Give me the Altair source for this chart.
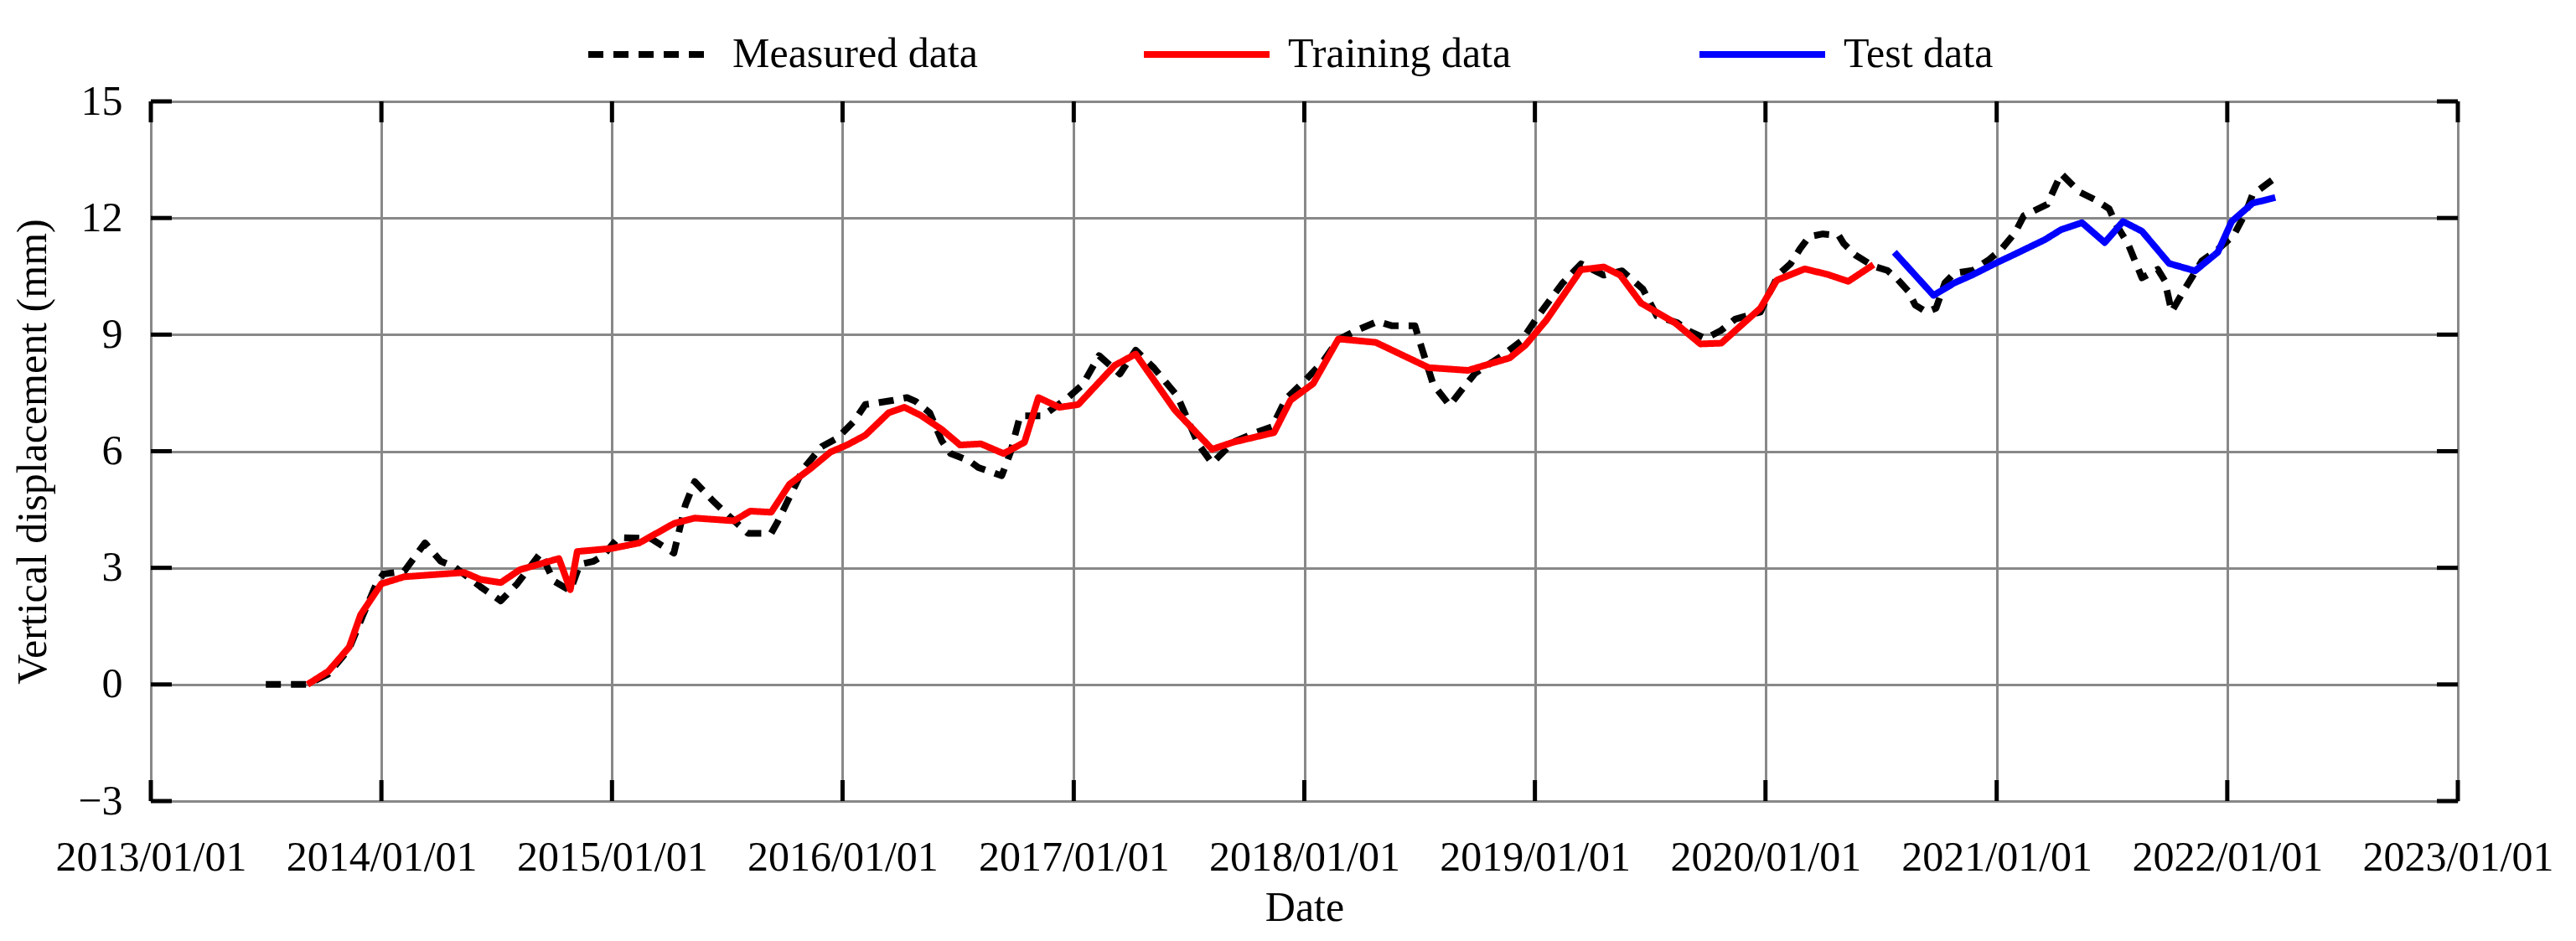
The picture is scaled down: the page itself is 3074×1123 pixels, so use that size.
import altair as alt
import pandas as pd

# ---------------- data (decimal years, displacement in mm) ----------------
meas_t = [2013.50, 2013.68, 2013.77, 2013.86, 2013.92, 2013.98, 2014.01, 2014.10, 2014.19, 2014.26,
          2014.32, 2014.43, 2014.52, 2014.59, 2014.69, 2014.75, 2014.82, 2014.86, 2014.92, 2014.96,
          2015.03, 2015.17, 2015.27, 2015.32, 2015.36, 2015.44, 2015.51, 2015.59, 2015.69, 2015.72,
          2015.77, 2015.83, 2015.91, 2015.98, 2016.05, 2016.10, 2016.15, 2016.22, 2016.28, 2016.32,
          2016.38, 2016.43, 2016.47, 2016.55, 2016.59, 2016.69, 2016.73, 2016.77, 2016.87, 2016.98,
          2017.04, 2017.11, 2017.20, 2017.27, 2017.35, 2017.45, 2017.54, 2017.60, 2017.69, 2017.79,
          2017.86, 2017.92, 2018.01, 2018.08, 2018.15, 2018.22, 2018.32, 2018.38, 2018.48, 2018.51,
          2018.56, 2018.63, 2018.69, 2018.74, 2018.86, 2018.94, 2019.02, 2019.12, 2019.20, 2019.30,
          2019.38, 2019.47, 2019.53, 2019.62, 2019.67, 2019.74, 2019.81, 2019.87, 2019.98, 2020.01,
          2020.06, 2020.11, 2020.15, 2020.19, 2020.25, 2020.32, 2020.34, 2020.39, 2020.47, 2020.53,
          2020.57, 2020.62, 2020.65, 2020.70, 2020.74, 2020.78, 2020.82, 2020.90, 2020.97, 2021.02,
          2021.08, 2021.12, 2021.22, 2021.28, 2021.36, 2021.43, 2021.49, 2021.52, 2021.57, 2021.63,
          2021.70, 2021.73, 2021.76, 2021.81, 2021.89, 2021.96, 2022.03, 2022.08, 2022.11, 2022.20]
meas_v = [0.00, 0.00, 0.27, 0.92, 1.79, 2.59, 2.84, 2.91, 3.64, 3.17,
          3.02, 2.51, 2.15, 2.59, 3.38, 2.66, 2.41, 3.09, 3.17, 3.30,
          3.78, 3.75, 3.38, 4.61, 5.22, 4.72, 4.32, 3.89, 3.89, 4.18,
          4.82, 5.55, 6.12, 6.34, 6.77, 7.20, 7.24, 7.31, 7.38, 7.28,
          6.99, 6.27, 5.94, 5.76, 5.58, 5.37, 5.98, 6.91, 6.91, 7.38,
          7.71, 8.46, 7.99, 8.60, 8.14, 7.42, 6.19, 5.69, 6.23, 6.48,
          6.63, 7.35, 7.85, 8.30, 8.87, 9.09, 9.34, 9.23, 9.23, 8.65,
          7.72, 7.18, 7.64, 8.00, 8.47, 8.83, 9.52, 10.31, 10.82, 10.53,
          10.64, 10.17, 9.48, 9.30, 9.09, 8.90, 9.11, 9.40, 9.58, 9.97,
          10.55, 10.83, 11.19, 11.52, 11.59, 11.55, 11.34, 11.05, 10.76, 10.65,
          10.44, 10.12, 9.76, 9.58, 9.68, 10.33, 10.58, 10.65, 10.93, 11.19,
          11.62, 12.06, 12.35, 13.14, 12.67, 12.46, 12.24, 11.84, 11.33, 10.46,
          10.68, 10.39, 9.59, 10.10, 10.90, 11.19, 11.55, 12.13, 12.60, 13.00]

train_t = [2013.68, 2013.77, 2013.86, 2013.91, 2014.00, 2014.10, 2014.36, 2014.43, 2014.52, 2014.60,
           2014.77, 2014.82, 2014.85, 2015.00, 2015.12, 2015.27, 2015.36, 2015.53, 2015.60, 2015.69,
           2015.77, 2015.86, 2015.95, 2016.02, 2016.10, 2016.20, 2016.27, 2016.34, 2016.43, 2016.51,
           2016.60, 2016.70, 2016.79, 2016.85, 2016.94, 2017.02, 2017.18, 2017.27, 2017.44, 2017.60,
           2017.69, 2017.87, 2017.94, 2018.04, 2018.15, 2018.31, 2018.54, 2018.71, 2018.89, 2018.96,
           2019.05, 2019.20, 2019.30, 2019.37, 2019.46, 2019.61, 2019.72, 2019.81, 2019.98, 2020.05,
           2020.17, 2020.27, 2020.36, 2020.47]
train_v = [0.00, 0.34, 0.96, 1.79, 2.59, 2.77, 2.88, 2.70, 2.62, 2.95,
           3.24, 2.44, 3.42, 3.50, 3.64, 4.14, 4.28, 4.21, 4.46, 4.43,
           5.15, 5.55, 5.98, 6.16, 6.41, 6.99, 7.13, 6.92, 6.56, 6.16,
           6.19, 5.94, 6.23, 7.38, 7.13, 7.20, 8.21, 8.50, 7.06, 6.05,
           6.23, 6.48, 7.31, 7.74, 8.89, 8.80, 8.15, 8.08, 8.40, 8.73,
           9.37, 10.67, 10.74, 10.53, 9.81, 9.30, 8.76, 8.78, 9.68, 10.40,
           10.69, 10.55, 10.37, 10.80]

test_t = [2020.56, 2020.73, 2020.82, 2020.90, 2021.00, 2021.07, 2021.21, 2021.28, 2021.37, 2021.47,
          2021.55, 2021.63, 2021.75, 2021.86, 2021.96, 2022.02, 2022.11, 2022.21]
test_v = [11.12, 10.01, 10.33, 10.54, 10.85, 11.04, 11.44, 11.70, 11.88, 11.37,
          11.91, 11.66, 10.83, 10.64, 11.12, 11.91, 12.38, 12.53]

series_names = ["Measured data", "Training data", "Test data"]
series_colors = ["#000000", "#FF0000", "#0000FF"]
y_ticks = [-3, 0, 3, 6, 9, 12, 15]
x_years = list(range(2013, 2024))


def to_date(y):
    yi = int(y)
    d = pd.Timestamp(yi, 1, 1) + pd.Timedelta(days=(y - yi) * 365.25)
    return d.strftime("%Y-%m-%d")


rows = []
for name, ts, vs in [(series_names[0], meas_t, meas_v),
                     (series_names[1], train_t, train_v),
                     (series_names[2], test_t, test_v)]:
    for i, (t, v) in enumerate(zip(ts, vs)):
        rows.append({"date": to_date(t), "value": v, "series": name, "order": i})
df = pd.DataFrame(rows)

ytick_df = pd.DataFrame({"v": y_ticks})
xtick_df = pd.DataFrame({"date": [f"{y}-01-01" for y in x_years]})

W, H = 2753, 835
FONT = "Liberation Serif"
FS = 50
TL = 25  # inward tick length

xdomain = [alt.DateTime(year=2013, month=1, date=1, utc=True),
           alt.DateTime(year=2023, month=1, date=1, utc=True)]
xscale = alt.Scale(type="utc", domain=xdomain)
yscale = alt.Scale(domain=[-3, 15], nice=False, zero=False)

xaxis = alt.Axis(
    values=[alt.DateTime(year=y, month=1, date=1, utc=True) for y in x_years],
    labelExpr="utcFormat(datum.value, '%Y/%m/%d')", title="Date",
    grid=True, gridColor="#888888", gridWidth=3, domain=False, ticks=False,
    labelFont=FONT, labelFontSize=FS, labelColor="black", labelPadding=42,
    labelOverlap=False, labelFlush=False, labelLimit=0,
    titleFont=FONT, titleFontSize=FS, titleFontWeight="normal", titleColor="black",
    titleY=127, titleBaseline="middle",
)
yaxis = alt.Axis(
    values=y_ticks, title="Vertical displacement (mm)",
    grid=True, gridColor="#888888", gridWidth=3, domain=False, ticks=False,
    labelFont=FONT, labelFontSize=FS, labelColor="black", labelPadding=34,
    titleFont=FONT, titleFontSize=FS, titleFontWeight="normal", titleColor="black",
    titleX=-141, titleY=H / 2, titleAngle=-90, titleAlign="center", titleBaseline="middle",
    titleLimit=0,
)

legend_cfg = dict(
    orient="none", legendX=518, legendY=-135, direction="horizontal",
    title=None, symbolType="stroke", symbolSize=22500,
    symbolStrokeWidth=8, labelFont=FONT, labelFontSize=FS,
    labelColor="black", labelOffset=18, columnPadding=182, gridAlign="all",
    labelLimit=0, padding=0,
)

lines = alt.Chart(df).mark_line(strokeWidth=8, strokeJoin="round").encode(
    x=alt.X("date:T", scale=xscale, axis=xaxis),
    y=alt.Y("value:Q", scale=yscale, axis=yaxis),
    color=alt.Color("series:N",
                    scale=alt.Scale(domain=series_names, range=series_colors),
                    legend=alt.Legend(**legend_cfg)),
    strokeDash=alt.StrokeDash("series:N",
                              scale=alt.Scale(domain=series_names,
                                              range=[[18, 12], [1, 0], [1, 0]]),
                              legend=alt.Legend(**legend_cfg)),
    detail="series:N",
    order="order:Q",
)

ytick_left = alt.Chart(ytick_df).mark_rule(color="black", strokeWidth=5).encode(
    y=alt.Y("v:Q", scale=yscale), x=alt.value(0), x2=alt.value(TL))
ytick_right = alt.Chart(ytick_df).mark_rule(color="black", strokeWidth=5).encode(
    y=alt.Y("v:Q", scale=yscale), x=alt.value(W - TL), x2=alt.value(W))
xtick_bot = alt.Chart(xtick_df).mark_rule(color="black", strokeWidth=5).encode(
    x=alt.X("date:T", scale=xscale), y=alt.value(H - TL), y2=alt.value(H))
xtick_top = alt.Chart(xtick_df).mark_rule(color="black", strokeWidth=5).encode(
    x=alt.X("date:T", scale=xscale), y=alt.value(0), y2=alt.value(TL))

chart = alt.layer(ytick_left, ytick_right, xtick_bot, xtick_top, lines).properties(
    width=W, height=H,
    autosize=alt.AutoSizeParams(type="none"),
    padding={"left": 172, "top": 113, "right": 130, "bottom": 160},
).configure_view(
    stroke="black", strokeWidth=6
).configure(background="white")

chart.save("out.html", embed_options={"renderer": "svg", "actions": False})
